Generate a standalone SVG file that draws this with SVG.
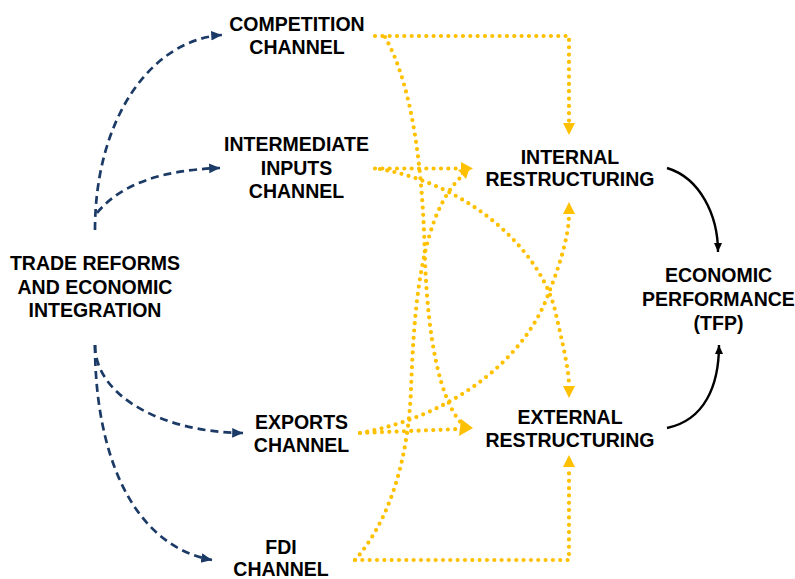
<svg xmlns="http://www.w3.org/2000/svg" width="795" height="579" viewBox="0 0 795 579">
  <style>
    .lbl { font-family: "Liberation Sans", Arial, Helvetica, sans-serif; font-weight: bold; font-size: 19.5px; fill: #000; text-anchor: middle; }
    .trade { fill: none; stroke: #1B3A66; stroke-width: 2.7; stroke-dasharray: 8 5; }
    .flow { fill: none; stroke: #FFC000; stroke-width: 4.2; stroke-linecap: round; stroke-dasharray: 0 7.33; }
    .result { fill: none; stroke: #000; stroke-width: 2.4; }
  </style>
  <defs>
    <marker id="arrBlue" markerUnits="userSpaceOnUse" markerWidth="12" markerHeight="12" refX="9" refY="5" orient="auto" viewBox="0 0 10 10">
      <path d="M0,1 L9,5 L0,9 Z" fill="#1B3A66"/>
    </marker>
    <marker id="arrBlack" markerUnits="userSpaceOnUse" markerWidth="10" markerHeight="10" refX="9" refY="5" orient="auto" viewBox="0 0 10 10">
      <path d="M0,1 L9,5 L0,9 Z" fill="#000"/>
    </marker>
  </defs>

  <g id="connectors">
    <!-- trade reforms to the four channels -->
    <path class="trade" d="M95,230 C95,120 150,40 222,35" marker-end="url(#arrBlue)"/>
    <path class="trade" d="M97,213 C120,185 160,170 220,168" marker-end="url(#arrBlue)"/>
    <path class="trade" d="M95,345 C95,395 160,432 243,433" marker-end="url(#arrBlue)"/>
    <path class="trade" d="M95,345 C95,450 130,545 212,560" marker-end="url(#arrBlue)"/>

    <!-- channels to restructuring (dotted lines, arrowheads drawn as triangles) -->
    <path class="flow" d="M375,36 H569 V123"/>
    <path d="M563,123 L575,123 L569,135 Z" fill="#FFC000"/>
    <path class="flow" d="M385,37 C415,90 423,180 425,260 C428,340 440,400 462,424"/>
    <path class="flow" d="M375,168.5 H462"/>
    <path d="M461,162 L473,168.5 L461,175 Z" fill="#FFC000"/>
    <path class="flow" d="M380,169 C470,185 540,250 555,310 C563,345 569,370 569,386"/>
    <path d="M563,386 L575,386 L569,398 Z" fill="#FFC000"/>
    <path class="flow" d="M360,433 C445,418 522,365 548,295 C560,265 569,235 569,214"/>
    <path d="M563,214 L575,214 L569,202 Z" fill="#FFC000"/>
    <path class="flow" d="M360,433 L460,429"/>
    <path d="M461,419 L473,428 L459,436 Z" fill="#FFC000"/>
    <path class="flow" d="M355,560 C390,520 408,460 411,390 C414,310 420,215 462,176"/>
    <path d="M458,170 L470,167 L466,179 Z" fill="#FFC000"/>
    <path class="flow" d="M355,560 H569 V467"/>
    <path d="M563,467 L575,467 L569,455 Z" fill="#FFC000"/>

    <!-- restructuring to performance -->
    <path class="result" d="M667,168 C700,178 718,215 718,252" marker-end="url(#arrBlack)"/>
    <path class="result" d="M667,428 C705,420 719,385 719,345" marker-end="url(#arrBlack)"/>
  </g>

  <g id="trade-reforms">
    <text class="lbl" x="95" y="270">TRADE REFORMS</text>
    <text class="lbl" x="95" y="293.5">AND ECONOMIC</text>
    <text class="lbl" x="95" y="317">INTEGRATION</text>
  </g>
  <g id="competition-channel">
    <text class="lbl" x="297" y="30.5">COMPETITION</text>
    <text class="lbl" x="297" y="53.5">CHANNEL</text>
  </g>
  <g id="intermediate-inputs-channel">
    <text class="lbl" x="296.5" y="151">INTERMEDIATE</text>
    <text class="lbl" x="296.5" y="174.5">INPUTS</text>
    <text class="lbl" x="296.5" y="197.5">CHANNEL</text>
  </g>
  <g id="exports-channel">
    <text class="lbl" x="301.5" y="428.5">EXPORTS</text>
    <text class="lbl" x="301.5" y="452">CHANNEL</text>
  </g>
  <g id="fdi-channel">
    <text class="lbl" x="281" y="554">FDI</text>
    <text class="lbl" x="281" y="576">CHANNEL</text>
  </g>
  <g id="internal-restructuring">
    <text class="lbl" x="570" y="163.5">INTERNAL</text>
    <text class="lbl" x="570" y="186">RESTRUCTURING</text>
  </g>
  <g id="external-restructuring">
    <text class="lbl" x="570" y="423.5">EXTERNAL</text>
    <text class="lbl" x="570" y="447">RESTRUCTURING</text>
  </g>
  <g id="economic-performance">
    <text class="lbl" x="718.5" y="281.5">ECONOMIC</text>
    <text class="lbl" x="718.5" y="305.5">PERFORMANCE</text>
    <text class="lbl" x="718.5" y="329.5">(TFP)</text>
  </g>
</svg>
